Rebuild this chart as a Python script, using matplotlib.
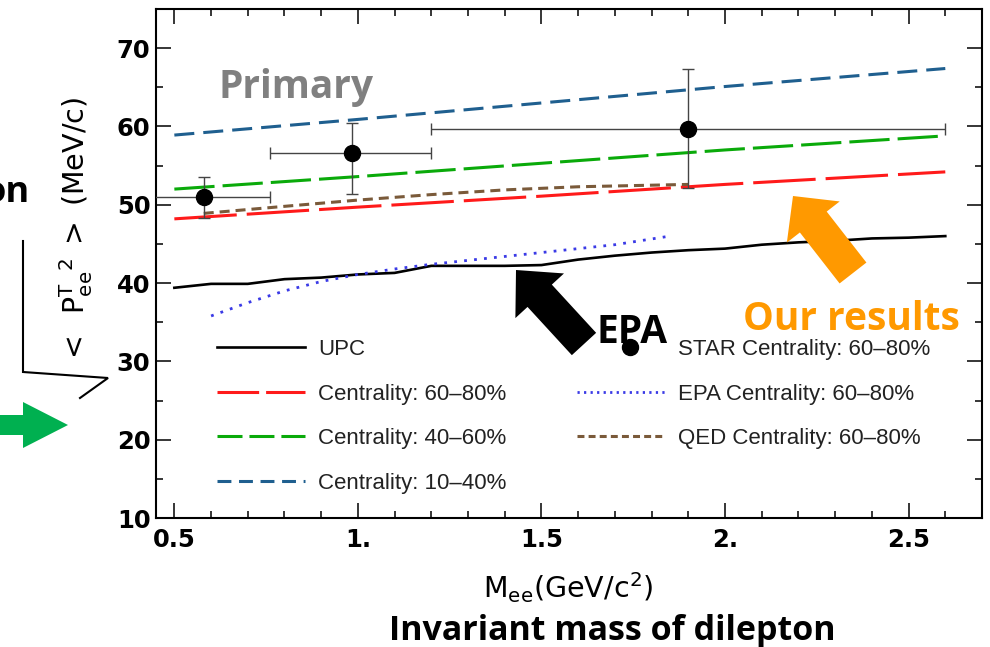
import matplotlib
matplotlib.use('Agg')
import matplotlib.pyplot as plt
import numpy as np
from matplotlib.patches import FancyArrow
from matplotlib.lines import Line2D
from matplotlib.ticker import MultipleLocator
from matplotlib.legend_handler import HandlerLine2D

plt.rcParams['lines.scale_dashes'] = False
plt.rcParams['font.family'] = ['Liberation Sans', 'DejaVu Sans']
plt.rcParams['mathtext.fontset'] = 'dejavusans'

# ---------------- data ----------------
upc_m = [0.5, 0.6, 0.7, 0.8, 0.9, 1.0, 1.1, 1.2, 1.3, 1.4, 1.5, 1.6, 1.7, 1.8, 1.9, 2.0, 2.1, 2.2, 2.3, 2.4, 2.5, 2.6]
upc_v = [39.4, 39.9, 39.9, 40.5, 40.7, 41.1, 41.3, 42.2, 42.2, 42.2, 42.3, 43.0, 43.5, 43.9, 44.2, 44.4, 44.9, 45.2, 45.4, 45.7, 45.8, 46.0]

c6080_m = [0.5, 1.0, 1.5, 2.0, 2.6]
c6080_v = [48.2, 49.7, 51.1, 52.6, 54.2]

c4060_m = [0.5, 1.0, 1.5, 2.0, 2.6]
c4060_v = [52.0, 53.6, 55.3, 57.0, 58.8]

c1040_m = [0.5, 1.0, 1.5, 2.0, 2.6]
c1040_v = [58.9, 60.9, 63.0, 65.1, 67.4]

qed_m = [0.58, 0.8, 1.0, 1.2, 1.4, 1.6, 1.9]
qed_v = [48.9, 49.8, 50.6, 51.3, 51.9, 52.3, 52.6]

epa_m = [0.6, 0.7, 0.8, 0.9, 1.0, 1.1, 1.2, 1.3, 1.4, 1.5, 1.6, 1.7, 1.85]
epa_v = [35.8, 37.5, 39.0, 40.2, 41.1, 41.8, 42.4, 42.9, 43.4, 43.9, 44.4, 44.9, 46.0]

star_m = [0.58, 0.985, 1.90]
star_v = [51.0, 56.6, 59.7]
star_xlo = [0.40, 0.76, 1.20]
star_xhi = [0.76, 1.20, 2.60]
star_ylo = [48.3, 51.4, 52.1]
star_yhi = [53.6, 60.5, 67.4]

xtick_vals = [0.5, 1.0, 1.5, 2.0, 2.5]
xtick_labels = ['0.5', '1.', '1.5', '2.', '2.5']
ytick_vals = [10, 20, 30, 40, 50, 60, 70]
ytick_labels = ['10', '20', '30', '40', '50', '60', '70']

labels_left = ['UPC', 'Centrality: 60\u201380%', 'Centrality: 40\u201360%', 'Centrality: 10\u201340%']
labels_right = ['STAR Centrality: 60\u201380%', 'EPA Centrality: 60\u201380%', 'QED Centrality: 60\u201380%']

# ---------------- styles ----------------
C_RED = '#FF1A1A'
C_GREEN = '#0AAA0A'
C_BLUE = '#1F5F8F'
C_BROWN = '#7A5A3A'
C_EPA = '#3A3AE6'
LW = 2.2

W, H = 990, 647
fig = plt.figure(figsize=(W / 100, H / 100), dpi=100)
ax = fig.add_axes([156 / W, 1 - 518 / H, 826 / W, 509 / H])

ax.plot(upc_m, upc_v, color='black', lw=1.9, solid_joinstyle='round')
ax.plot(c6080_m, c6080_v, color=C_RED, lw=LW, ls=(0, (45, 7.2)), dash_capstyle='butt')
ax.plot(c4060_m, c4060_v, color=C_GREEN, lw=LW, ls=(0, (29, 5.8)), dash_capstyle='butt')
ax.plot(c1040_m, c1040_v, color=C_BLUE, lw=LW, ls=(0, (14.4, 6.5)), dash_capstyle='butt')
ax.plot(qed_m, qed_v, color=C_BROWN, lw=LW, ls=(0, (7.2, 4.3)), dash_capstyle='butt')
ax.plot(epa_m, epa_v, color=C_EPA, lw=2.0, ls=(0, (2.0, 5.2)), dash_capstyle='butt')

sm = np.array(star_m)
sv = np.array(star_v)
xerr = [sm - np.array(star_xlo), np.array(star_xhi) - sm]
yerr = [sv - np.array(star_ylo), np.array(star_yhi) - sv]
ax.errorbar(sm, sv, xerr=xerr, yerr=yerr, fmt='o', color='black', ms=11.5,
            ecolor='#444444', elinewidth=1.0, capsize=4, capthick=1.0, zorder=5)

ax.set_xlim(0.45, 2.70)
ax.set_ylim(10, 75)
ax.set_xticks(xtick_vals)
ax.set_xticklabels(xtick_labels)
ax.set_yticks(ytick_vals)
ax.set_yticklabels(ytick_labels)
ax.xaxis.set_minor_locator(MultipleLocator(0.1))
ax.yaxis.set_minor_locator(MultipleLocator(5))
ax.tick_params(which='both', direction='in', top=True, right=True, width=1.1, color='black')
ax.tick_params(which='major', length=10.8)
ax.tick_params(which='minor', length=5.2)
ax.tick_params(axis='x', which='major', pad=7)
ax.tick_params(axis='y', which='major', pad=4)
for lab in ax.get_xticklabels() + ax.get_yticklabels():
    lab.set_fontsize(17.5)
    lab.set_fontweight('bold')
    lab.set_family('DejaVu Sans')
for s in ax.spines.values():
    s.set_linewidth(1.5)


# ---------------- legends ----------------
class ShiftedMarker(HandlerLine2D):
    def __init__(self, shift, **kw):
        super().__init__(**kw)
        self.shift = shift

    def create_artists(self, *args, **kwargs):
        arts = super().create_artists(*args, **kwargs)
        for a in arts:
            xd = np.array(a.get_xdata(), dtype=float)
            if len(xd) == 3:
                xd[1] += self.shift
                a.set_xdata(xd)
        return arts


lh = [
    Line2D([], [], color='black', lw=1.9),
    Line2D([], [], color=C_RED, lw=LW, ls=(0, (30, 5)), dash_capstyle='butt'),
    Line2D([], [], color=C_GREEN, lw=LW, ls=(0, (18, 5)), dash_capstyle='butt'),
    Line2D([], [], color=C_BLUE, lw=LW, ls=(0, (10, 5.5)), dash_capstyle='butt'),
]
star_handle = Line2D([], [], ls='none', marker='o', ms=11.5, color='black')
rh = [
    star_handle,
    Line2D([], [], color=C_EPA, lw=2.0, ls=(0, (1.6, 3.1)), dash_capstyle='butt'),
    Line2D([], [], color=C_BROWN, lw=LW, ls=(0, (5, 3)), dash_capstyle='butt'),
]
fs_leg = 16
em = fs_leg * 100 / 72
common = dict(bbox_transform=fig.transFigure, frameon=False, fontsize=fs_leg,
              handlelength=88 / em, handletextpad=13 / em, labelspacing=1.06,
              borderpad=0, borderaxespad=0, loc='upper left')
leg1 = ax.legend(lh, labels_left, bbox_to_anchor=(217 / W, 1 - 339 / H), **common)
for t in leg1.get_texts():
    t.set_color('#222222')
ax.add_artist(leg1)
leg2 = ax.legend(rh, labels_right, bbox_to_anchor=(577 / W, 1 - 339 / H),
                 handler_map={star_handle: ShiftedMarker(6.5, numpoints=1)}, **common)
for t in leg2.get_texts():
    t.set_color('#222222')

# ---------------- overlay (pixel coordinates) ----------------
ov = fig.add_axes([0, 0, 1, 1], zorder=10)
ov.set_xlim(0, W)
ov.set_ylim(H, 0)
ov.axis('off')
ov.patch.set_alpha(0)

# axis labels
ov.text(76, 231, r'$<\;\;\mathrm{P}_{\mathrm{ee}}^{\mathrm{T}\ \ 2}\;>$ (MeV/c)', rotation=90,
        ha='center', va='center', fontsize=20.5, family='DejaVu Sans')
ov.plot([80, 108, 23, 23], [398, 378, 372, 241], color='black', lw=1.5, solid_joinstyle='miter')
ov.text(568, 598, r'M$_{\mathrm{ee}}$(GeV/c$^{2}$)', ha='center', va='baseline', fontsize=20.5,
        family='DejaVu Sans')

# annotations
ob = dict(family=['Open Sans', 'DejaVu Sans'], fontweight='bold')
ov.text(219, 98, 'Primary', color='#808080', fontsize=28, ha='left', va='baseline', **ob)
ov.text(596, 343, 'EPA', color='black', fontsize=28, ha='left', va='baseline', **ob)
ov.text(743, 330, 'Our results', color='#FF9900', fontsize=28, ha='left', va='baseline', **ob)
ov.text(612, 640, 'Invariant mass of dilepton', color='black', fontsize=24.5, ha='center', va='baseline', **ob)
ov.text(30, 202, 'on', color='black', fontsize=26, ha='right', va='baseline', **ob)

ov.add_patch(FancyArrow(584, 344, -68, -74, width=33, head_width=66, head_length=35,
                        length_includes_head=True, color='black', lw=0))
ov.add_patch(FancyArrow(853, 273, -60, -77, width=34, head_width=67, head_length=33,
                        length_includes_head=True, color='#FF9900', lw=0))
ov.add_patch(FancyArrow(-5, 425, 73, 0, width=20, head_width=46, head_length=45,
                        length_includes_head=True, color='#00B050', lw=0))

fig.savefig('out.png', dpi=100)
